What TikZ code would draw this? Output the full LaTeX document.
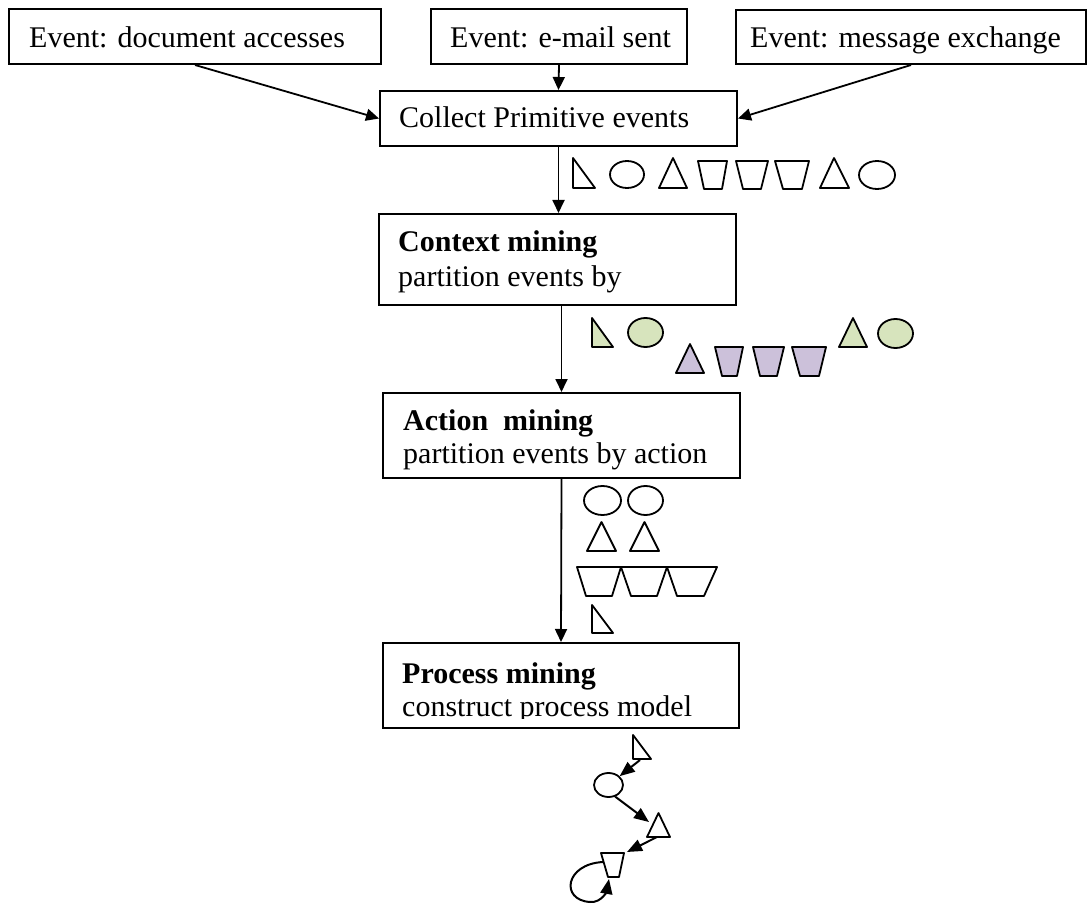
\documentclass[tikz,border=0pt]{standalone}
\usepackage{fontspec}
\setmainfont{Liberation Serif}
\usetikzlibrary{arrows.meta,shapes.geometric}
\definecolor{lgreen}{HTML}{D7E4BD}
\definecolor{lpurple}{HTML}{CCC1DA}
\begin{document}
\begin{tikzpicture}[x=1pt,y=-1pt,
  box/.style={draw, line width=2pt, rectangle, inner sep=0pt},
  lbl/.style={anchor=base west, inner sep=0pt, font=\fontsize{30}{36}\selectfont},
  arr/.style={-{Triangle[length=13pt,width=12pt]}, line width=1.8pt},
  garr/.style={-{Triangle[length=15pt,width=12pt]}, line width=2pt},
  shp/.style={draw, line width=1.8pt, line join=round},
  gshp/.style={shp, fill=lgreen},
  pshp/.style={shp, fill=lpurple}]
\path[use as bounding box] (0,0) rectangle (1088,904);

% boxes
\node[box, minimum width=372pt, minimum height=55pt] (A) at (195,36.5) {};
\node[box, minimum width=256pt, minimum height=55pt] (B) at (559,36.5) {};
\node[box, minimum width=350pt, minimum height=54pt] (C) at (911,37) {};
\node[box, minimum width=357pt, minimum height=55pt] (D) at (558.5,118.5) {};
\node[box, minimum width=357pt, minimum height=91pt] (Ctx) at (557.5,259.5) {};
\node[box, minimum width=357pt, minimum height=85pt] (Act) at (561.5,435.5) {};
\node[box, minimum width=356pt, minimum height=85pt] (Proc) at (561,685.5) {};

% texts
\node[lbl] (tA) at (29,47.7) {Event: document accesses};
\node[lbl] (tB) at (450,47.7) {Event: e-mail sent};
\node[lbl] (tC) at (750,47.7) {Event: message exchange};
\node[lbl] (tD) at (399,128) {Collect Primitive events};
\node[lbl] (tCtx1) at (398,252) {\bfseries Context mining};
\node[lbl] (tCtx2) at (398,287) {partition events by};
\node[lbl] (tAct1) at (403,430) {\bfseries Action\ \ mining};
\node[lbl] (tAct2) at (403,463) {partition events by action};
\node[lbl] (tProc1) at (402,683) {\bfseries Process mining};
\begin{scope}
  \clip (380,690) rectangle (745,718.5);
  \node[lbl] (tProc2) at (402,716) {construct process model};
\end{scope}

% connectors
\draw[arr] (A.south) -- (D.west);
\draw[arr] (B.south) -- (D.north);
\draw[arr] (C.south) -- (D.east);
\draw[arr] (D.south) -- (D.south |- Ctx.north);
\draw[arr] (Act.north |- Ctx.south) -- (Act.north);
\draw[arr] (Act.south) -- (Proc.north);

% row 1 (white)
\draw[shp] (573,158) -- (573,188) -- (595,188) -- cycle;
\draw[shp] (627,174.5) ellipse [x radius=17, y radius=13.5];
\draw[shp] (659,188) -- (673,158) -- (687,188) -- cycle;
\draw[shp] (698,161) -- (727,161) -- (722,189) -- (704,189) -- cycle;
\draw[shp] (736,161) -- (768,161) -- (761,189) -- (743,189) -- cycle;
\draw[shp] (775,161) -- (809,161) -- (802,189) -- (783,189) -- cycle;
\draw[shp] (820,188) -- (834,158) -- (849,188) -- cycle;
\draw[shp] (877,175) ellipse [x radius=18, y radius=14];

% row 2 (coloured)
\draw[gshp] (592,318) -- (592,347) -- (613,347) -- cycle;
\draw[gshp] (645.5,332.5) ellipse [x radius=17.5, y radius=14.5];
\draw[pshp] (676,373) -- (690,344) -- (704,373) -- cycle;
\draw[pshp] (715,347) -- (743,347) -- (737,376) -- (722,376) -- cycle;
\draw[pshp] (753,347) -- (784,347) -- (777,376) -- (760,376) -- cycle;
\draw[pshp] (792,347) -- (826,347) -- (819,376) -- (800,376) -- cycle;
\draw[gshp] (839,347) -- (853,318) -- (867,347) -- cycle;
\draw[gshp] (895.5,333.5) ellipse [x radius=17.5, y radius=14.5];

% row 3 (grouped)
\draw[shp] (602.5,500.5) ellipse [x radius=18.5, y radius=14.5];
\draw[shp] (645.5,500.5) ellipse [x radius=17.5, y radius=14.5];
\draw[shp] (587,551) -- (601.5,522) -- (616,551) -- cycle;
\draw[shp] (630,551) -- (644.5,522) -- (659,551) -- cycle;
\draw[shp] (577,567) -- (621,567) -- (612,596) -- (586,596) -- cycle;
\draw[shp] (621,567) -- (667,567) -- (657,596) -- (631,596) -- cycle;
\draw[shp] (667,567) -- (717,567) -- (704,596) -- (677,596) -- cycle;
\draw[shp] (592,605) -- (592,633) -- (613,633) -- cycle;

% process model
\draw[shp] (633,735) -- (633,759) -- (651,759) -- cycle;
\node[draw, ellipse, line width=1.8pt, minimum width=29pt, minimum height=24pt, inner sep=0pt] (pe) at (608.5,785) {};
\draw[shp] (647,837) -- (658.5,813) -- (670,837) -- cycle;
\draw[shp] (601,853) -- (624,853) -- (619,877) -- (608,877) -- cycle;
\coordinate (prt) at (640,760);
\coordinate (ptri) at (649,822);
\coordinate (ptriB) at (657,837);
\coordinate (ptrap) at (627,852);
\coordinate (ploopS) at (603,862);
\coordinate (ploopE) at (609,879);
\draw[garr] (prt) -- (pe);
\draw[garr] (pe.-60) -- (ptri);
\draw[garr] (ptriB) -- (ptrap);
\draw[garr] (ploopS) .. controls (565,864) and (560,900) .. (590,902) .. controls (602,903) and (607,890) .. (ploopE);
\end{tikzpicture}
\end{document}
